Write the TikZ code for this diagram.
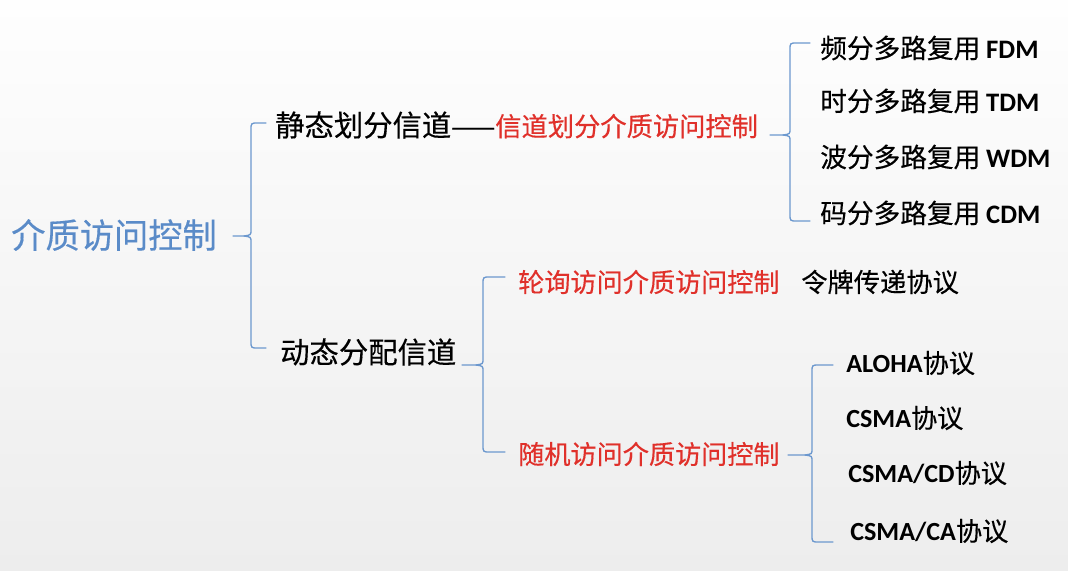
\documentclass[tikz,border=0pt]{standalone}
\usepackage{fontspec}
\setmainfont{Noto Sans CJK SC}[FakeBold=0.35]
\newfontfamily\lat{Carlito}[UprightFont=* Bold]
\definecolor{rootblue}{HTML}{5A8BC8}
\definecolor{bracecol}{HTML}{6C98CE}
\definecolor{hotred}{HTML}{E0302A}
\definecolor{bgtop}{HTML}{FEFEFE}
\definecolor{bgbot}{HTML}{EDEDED}
\newcommand{\fs}[1]{\fontsize{#1}{#1}\selectfont}
\newcommand{\abbr}[1]{{\lat #1}}
\tikzset{
  lbl/.style={anchor=west, inner sep=0pt, text=black},
  brace/.style={draw=bracecol, line width=1pt, line cap=round, line join=round},
}
% curly brace: tip x #1, vertical at x #2, from y #3 to y #4, tip at y #5, ticks end at x #6
\newcommand{\curly}[6]{%
  \draw[brace] (#6,#3) -- (#2+7,#3) .. controls (#2,#3) .. (#2,#3+7)
     -- (#2,#5-6) .. controls (#2,#5-1) .. (#2-7,#5) -- (#1,#5);
  \draw[brace] (#6,#4) -- (#2+7,#4) .. controls (#2,#4) .. (#2,#4-7)
     -- (#2,#5+6) .. controls (#2,#5+1) .. (#2-7,#5);
}
\begin{document}
\begin{tikzpicture}[x=0.75pt,y=-0.75pt]
  \shade[top color=bgtop, bottom color=bgbot] (0,0) rectangle (1068,571);
  \useasboundingbox (0,0) rectangle (1068,571);

  % root
  \node[lbl, text=rootblue, font=\fs{25.7}] (root) at (11,235) {介质访问控制};

  % level 1
  \node[lbl, font=\fs{22}] (static) at (275,125)
    {静态划分信道{\fs{19.7}——}\textcolor{hotred}{\fs{19.7}信道划分介质访问控制}};
  \node[lbl, font=\fs{22}] (dynamic) at (280,352) {动态分配信道};

  % multiplexing
  \node[lbl, font=\fs{20}] (fdm) at (820,48)  {频分多路复用 \abbr{FDM}};
  \node[lbl, font=\fs{20}] (tdm) at (820,101) {时分多路复用 \abbr{TDM}};
  \node[lbl, font=\fs{20}] (wdm) at (820,157) {波分多路复用 \abbr{WDM}};
  \node[lbl, font=\fs{20}] (cdm) at (820,213) {码分多路复用 \abbr{CDM}};

  % dynamic allocation
  \node[lbl, text=hotred, font=\fs{19.6}] (poll) at (518,282) {轮询访问介质访问控制};
  \node[lbl, font=\fs{19.7}] (token) at (801,282) {令牌传递协议};
  \node[lbl, text=hotred, font=\fs{19.6}] (rand) at (518,454) {随机访问介质访问控制};

  % random access protocols
  \node[lbl, font=\fs{19.6}] (aloha) at (846,363) {\abbr{ALOHA}协议};
  \node[lbl, font=\fs{19.6}] (csma)  at (846,418) {\abbr{CSMA}协议};
  \node[lbl, font=\fs{19.6}] (csmacd) at (848,473) {\abbr{CSMA/CD}协议};
  \node[lbl, font=\fs{19.6}] (csmaca) at (850,531) {\abbr{CSMA/CA}协议};

  % braces
  \curly{233}{251}{123}{348}{236}{266}
  \curly{770}{790}{43}{221}{135}{810}
  \curly{462}{483}{277}{452}{365}{505}
  \curly{788}{812}{365}{542}{455}{833}
\end{tikzpicture}
\end{document}
